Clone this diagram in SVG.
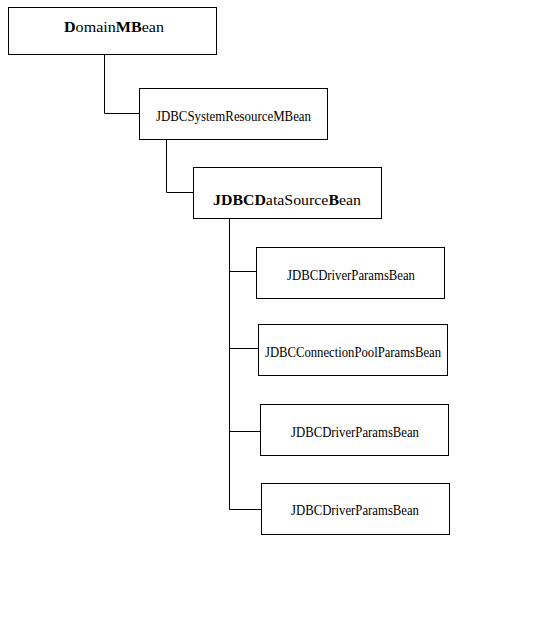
<svg xmlns="http://www.w3.org/2000/svg" width="544" height="629" viewBox="0 0 544 629">
<style>
.box{fill:#fff;stroke:#000;stroke-width:1}
.lbl{font-family:"Liberation Serif","Times New Roman",serif;font-size:14px;fill:#000}
.b{font-weight:bold}
.conn{fill:none;stroke:#000;stroke-width:1}
</style>
<rect width="544" height="629" fill="#fff"/>
<g id="connectors">
<path class="conn" d="M104.5 54.5V113.5H139.5"/>
<path class="conn" d="M166.5 139.5V192.5H193.5"/>
<path class="conn" d="M229.5 218.5V509.5H261.5M229.5 271.5H256.5M229.5 348.5H258.5M229.5 431.5H260.5"/>
</g>
<g id="domain">
<rect class="box" x="8.5" y="7.5" width="208" height="47"/>
<text class="lbl" x="64" y="32" textLength="100" lengthAdjust="spacingAndGlyphs"><tspan class="b">D</tspan>omain<tspan class="b">MB</tspan>ean</text>
</g>
<g id="sysres">
<rect class="box" x="139.5" y="88.5" width="188" height="51"/>
<text class="lbl" x="156" y="121" textLength="155" lengthAdjust="spacingAndGlyphs">JDBCSystemResourceMBean</text>
</g>
<g id="datasource">
<rect class="box" x="193.5" y="167.5" width="188" height="51"/>
<text class="lbl" x="213" y="205" textLength="148" lengthAdjust="spacingAndGlyphs"><tspan class="b">JDBCD</tspan>ataSource<tspan class="b">B</tspan>ean</text>
</g>
<g id="driver1">
<rect class="box" x="256.5" y="247.5" width="188" height="51"/>
<text class="lbl" x="287" y="280" textLength="128" lengthAdjust="spacingAndGlyphs">JDBCDriverParamsBean</text>
</g>
<g id="pool">
<rect class="box" x="258.5" y="324.5" width="189" height="51"/>
<text class="lbl" x="265" y="357" textLength="176" lengthAdjust="spacingAndGlyphs">JDBCConnectionPoolParamsBean</text>
</g>
<g id="driver2">
<rect class="box" x="260.5" y="404.5" width="188" height="51"/>
<text class="lbl" x="291" y="437" textLength="128" lengthAdjust="spacingAndGlyphs">JDBCDriverParamsBean</text>
</g>
<g id="driver3">
<rect class="box" x="261.5" y="483.5" width="188" height="51"/>
<text class="lbl" x="291" y="515" textLength="128" lengthAdjust="spacingAndGlyphs">JDBCDriverParamsBean</text>
</g>
</svg>
